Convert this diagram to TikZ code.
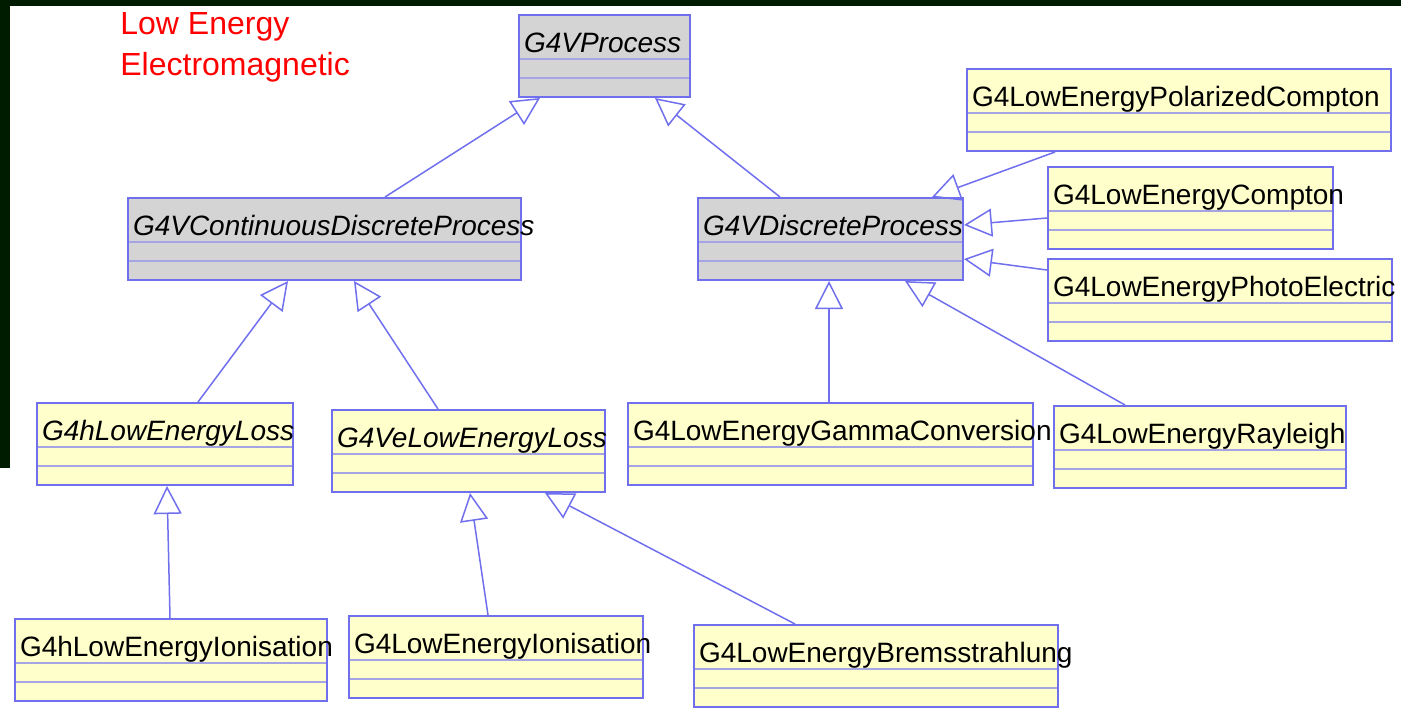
\documentclass[tikz,border=0pt]{standalone}
\usepackage{fontspec}
\setmainfont{Liberation Sans}
\usetikzlibrary{arrows.meta}
\definecolor{umlblue}{RGB}{112,112,238}
\definecolor{umlline}{RGB}{165,165,228}
\definecolor{umlgray}{RGB}{212,212,212}
\definecolor{umlyellow}{RGB}{255,255,204}
\definecolor{slidebg}{RGB}{0,28,0}
\tikzset{
    umlclass/.style={draw=umlblue, line width=1pt, fill=umlyellow, anchor=north west,
        minimum width=#1*0.5pt, text width=#1*0.5pt-5pt, align=left,
        inner xsep=2.5pt, inner ysep=0pt, text height=18.5pt, text depth=22.5pt,
        font=\fontsize{14}{17}\selectfont,
        path picture={
            \draw[divider] ([yshift=-22pt]path picture bounding box.north west) -- ([yshift=-22pt]path picture bounding box.north east);
            \draw[divider] ([yshift=-31.5pt]path picture bounding box.north west) -- ([yshift=-31.5pt]path picture bounding box.north east);
        }},
    abstract/.style={font=\fontsize{14}{17}\selectfont\itshape},
    core/.style={fill=umlgray},
    divider/.style={draw=umlline, line width=0.75pt},
    extends/.style={draw=umlblue, line width=0.75pt, -{Triangle[open, length=14pt, width=14pt]}},
    title/.style={anchor=base west, align=left, inner sep=0pt, text=red, font=\fontsize{16}{20.5}\selectfont}
}
\begin{document}
\begin{tikzpicture}[x=0.5pt, y=-0.5pt]
    \useasboundingbox (0,0) rectangle (1401,713);
    \fill[white] (0,0) rectangle (1401,713);
    \fill[slidebg] (0,0) rectangle (1401,6);
    \fill[slidebg] (0,0) rectangle (10,468);

    % Nodes
    \node[title] (title) at (120,75) {Low Energy\\Electromagnetic};
    \node[umlclass=171, abstract, core] (vp) at (518,14) {G4VProcess};
    \node[umlclass=393, abstract, core] (cdp) at (127,197) {G4VContinuousDiscreteProcess};
    \node[umlclass=265, abstract, core] (dp) at (697,197) {G4VDiscreteProcess};
    \node[umlclass=424] (pc) at (966,68) {G4LowEnergyPolarizedCompton};
    \node[umlclass=285] (co) at (1047,166) {G4LowEnergyCompton};
    \node[umlclass=344] (pe) at (1047,258) {G4LowEnergyPhotoElectric};
    \node[umlclass=256, abstract] (hl) at (36,402) {G4hLowEnergyLoss};
    \node[umlclass=273, abstract] (vl) at (331,409) {G4VeLowEnergyLoss};
    \node[umlclass=292] (ry) at (1053,405) {G4LowEnergyRayleigh};
    \node[umlclass=405] (gc) at (627,402) {G4LowEnergyGammaConversion};
    \node[umlclass=312] (hi) at (14,618) {G4hLowEnergyIonisation};
    \node[umlclass=294] (li) at (348,615) {G4LowEnergyIonisation};
    \node[umlclass=364] (br) at (693,624) {G4LowEnergyBremsstrahlung};

    % edges
    \draw[extends] ([xshift=129pt]cdp.north west) -- ([xshift=11pt]vp.south west);
    \draw[extends] ([xshift=41.5pt]dp.north west) -- ([xshift=68.5pt]vp.south west);
    \draw[extends] ([xshift=44.5pt]pc.south west) -- ([xshift=117.5pt]dp.north west);
    \draw[extends] ([yshift=-26pt]co.north west) -- ([yshift=-14pt]dp.north east);
    \draw[extends] ([yshift=-6pt]pe.north west) -- ([yshift=-31pt]dp.north east);
    \draw[extends] ([xshift=101pt]gc.north west) -- ([xshift=66pt]dp.south west);
    \draw[extends] ([xshift=36pt]ry.north west) -- ([xshift=104pt]dp.south west);
    \draw[extends] ([xshift=81pt]hl.north west) -- ([xshift=80.5pt]cdp.south west);
    \draw[extends] ([xshift=53.5pt]vl.north west) -- ([xshift=113.5pt]cdp.south west);
    \draw[extends] ([xshift=78pt]hi.north west) -- ([xshift=65.5pt]hl.south west);
    \draw[extends] ([xshift=70pt]li.north west) -- ([xshift=69.5pt]vl.south west);
    \draw[extends] ([xshift=51pt]br.north west) -- ([xshift=107pt]vl.south west);
\end{tikzpicture}
\end{document}
